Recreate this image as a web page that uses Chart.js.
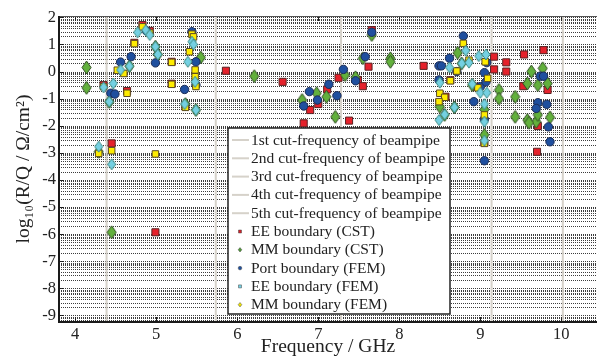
<!DOCTYPE html>
<html>
<head>
<meta charset="utf-8">
<script src="https://cdn.jsdelivr.net/npm/chart.js@4/dist/chart.umd.min.js"></script>
<style>
  html, body { margin: 0; padding: 0; background: #fff; }
  #wrap { width: 603px; height: 359px; }
</style>
</head>
<body>
<div id="wrap"><canvas id="myChart" width="603" height="359"></canvas></div>
<script>
'use strict';

// tick labels
let xTicks = [4, 5, 6, 7, 8, 9, 10];
let yTicks = [-9, -8, -7, -6, -5, -4, -3, -2, -1, 0, 1, 2];

// cut-frequencies of the beampipe (GHz)
let cutLabels = ['1st cut-frequency of beampipe', '2nd cut-frequency of beampipe', '3rd cut-frequency of beampipe',
  '4th cut-frequency of beampipe', '5th cut-frequency of beampipe'];
let cutFreq = [4.387, 5.735, 7.281, 9.139, 10.018];

// EE boundary (CST)
let eeCstFreq = [4.35, 4.45, 4.64, 4.73, 4.83, 4.92, 4.99, 5.19, 5.19, 5.36, 5.86, 6.56, 6.82, 6.90, 7.00, 7.11, 7.25,
  7.38, 7.49, 7.55, 7.62, 7.66, 8.30, 8.63, 8.57, 8.94, 9.17, 9.17, 9.32, 9.32, 9.54, 9.78, 9.53, 9.83, 9.71, 9.70, 9.05];
let eeCstVal = [-0.50, -2.65, -0.72, 1.06, 1.72, 1.50, -5.93, 0.36, -0.45, -1.28, 0.03, -0.38, -1.91, -1.42, -1.20, -0.66, -0.23,
  -1.81, -0.31, -0.54, 0.18, 1.53, 0.21, -0.32, -0.93, -0.56, 0.55, 0.08, 0.34, 0.00, 0.63, 0.79, -0.54, -0.68, -2.01, -2.96, -2.62];

// MM boundary (CST)
let mmCstFreq = [4.14, 4.14, 4.29, 4.42, 4.45, 4.67, 4.99, 5.02, 5.36, 5.55, 5.49, 6.21, 6.80, 6.98, 7.10, 7.21, 7.33, 7.46,
  7.55, 7.66, 7.89, 7.89, 8.50, 8.56, 8.68, 8.72, 8.77, 8.90, 9.05, 9.05, 9.23, 9.23, 9.43, 9.43, 9.63, 9.77, 9.58, 9.71,
  9.83, 9.58, 9.69, 9.86, 9.71, 9.60];
let mmCstVal = [0.15, -0.60, -2.96, -1.12, -5.93, 0.20, 0.92, 0.63, -1.20, 0.52, -1.42, -0.17, -1.05, -0.80, -0.93, -1.67, -0.13, -0.21,
  0.49, 1.35, 0.49, 0.36, -1.30, -1.60, -1.32, 0.69, 0.30, -0.50, -1.40, -2.34, -0.68, -1.00, -0.93, -1.67, 0.00, 0.12, -0.44, -0.50,
  -0.44, -1.79, -1.85, -1.69, -1.60, -1.89];

// Port boundary (FEM)
let portFreq = [4.44, 4.49, 4.56, 4.69, 4.99, 4.88, 5.44, 5.49, 5.49, 5.35, 6.82, 6.89, 6.99, 7.13, 7.23, 7.31, 7.46, 7.58,
  7.66, 8.49, 8.52, 8.49, 8.62, 8.71, 8.79, 8.92, 9.00, 9.05, 9.08, 9.07, 9.05, 9.05, 9.74, 9.78, 9.71, 9.82, 9.69, 9.84, 9.86];
let portVal = [-0.80, -0.83, 0.35, 0.55, 0.32, 1.50, 1.47, 0.36, -0.50, -0.66, -1.27, -0.74, -1.05, -0.47, -0.89, 0.08, -0.34, 0.55,
  1.45, 0.21, 0.21, -0.31, 0.49, 0.00, 1.31, -1.11, -0.56, -0.04, 0.33, -0.38, -1.76, -3.29, -0.17, -0.17, -1.15, -1.21, -1.36, -2.04, -2.59];

// EE boundary (FEM)
let eeFemFreq = [4.35, 4.29, 4.45, 4.64, 4.73, 4.83, 4.92, 4.52, 4.60, 4.99, 5.19, 5.19, 5.36, 5.41, 5.44, 5.46, 5.48, 5.48,
  5.49, 8.79, 8.86, 8.71, 8.63, 8.50, 8.56, 8.49, 8.97, 9.06, 9.09, 9.05, 9.05];
let eeFemVal = [-0.56, -3.02, -2.92, -0.80, 1.03, 1.65, 1.42, 0.05, -0.07, -3.04, 0.34, -0.47, -1.32, 0.73, 1.38, 1.28, 0.06, -0.19,
  -0.55, 1.04, 0.42, 0.02, -0.34, -0.80, -0.95, -1.11, -0.60, 0.36, -0.25, -1.60, -2.65];

// MM boundary (FEM)
let mmFemFreq = [4.29, 4.45, 4.35, 4.47, 4.42, 4.56, 4.67, 4.77, 4.87, 4.92, 4.99, 5.02, 5.35, 5.49, 5.39, 5.44, 5.46, 5.48,
  8.50, 8.62, 8.77, 8.82, 8.86, 8.98, 9.07, 8.90, 9.00, 9.08, 8.56, 8.49, 8.68, 9.05, 9.05, 9.05];
let mmFemVal = [-2.77, -3.42, -0.58, -0.44, -1.11, 0.06, 0.20, 1.45, 1.53, 1.35, 0.92, 0.63, -1.20, -1.42, 0.36, 1.10, 1.00, -0.38,
  -0.41, 0.15, 0.30, 0.77, 0.33, 0.57, 0.63, -0.46, -0.78, -0.78, -1.58, -1.79, -1.32, -1.20, -1.85, -2.55];

let serif = '"Liberation Serif", "DejaVu Serif", serif';

function pts(xs, ys) {
  return xs.map((x, i) => ({x: x, y: ys[i]}));
}

function makeDiamond(w, h, fill, stroke) {
  let c = document.createElement('canvas');
  c.width = w + 2;
  c.height = h + 2;
  let g = c.getContext('2d');
  g.beginPath();
  g.moveTo(c.width / 2, 1);
  g.lineTo(c.width - 1, c.height / 2);
  g.lineTo(c.width / 2, c.height - 1);
  g.lineTo(1, c.height / 2);
  g.closePath();
  g.fillStyle = fill;
  g.fill();
  g.lineWidth = 1;
  g.strokeStyle = stroke;
  g.stroke();
  return c;
}

let greenDiamond = makeDiamond(9, 13, '#62b03c', '#2e4a22');
let cyanDiamond = makeDiamond(8, 11, '#74d0e2', '#3d8a82');

let yMin = -9.24;
let yMax = 2.05;

let datasets = [];
for (let i = 0; i < cutFreq.length; i++) {
  datasets.push({
    label: cutLabels[i],
    data: [{x: cutFreq[i], y: yMin}, {x: cutFreq[i], y: yMax}],
    showLine: true,
    borderColor: '#d6d2ca',
    borderWidth: 2,
    pointRadius: 0,
    order: 10,
    legendKind: 'line'
  });
}
datasets.push({
  label: 'EE boundary (CST)', data: pts(eeCstFreq, eeCstVal),
  pointStyle: 'rect', pointRadius: 5, backgroundColor: '#e5212b', borderColor: '#5a2222', borderWidth: 1,
  order: 5, legendColor: '#d42028', legendShape: 'rect'
});
datasets.push({
  label: 'MM boundary (CST)', data: pts(mmCstFreq, mmCstVal),
  pointStyle: greenDiamond, backgroundColor: '#62b03c', borderColor: '#2e4a22',
  order: 4, legendColor: '#4f9a35', legendShape: 'diamond'
});
datasets.push({
  label: 'Port boundary (FEM)', data: pts(portFreq, portVal),
  pointStyle: 'circle', pointRadius: 4.2, backgroundColor: '#1f4f9e', borderColor: '#1b2c55', borderWidth: 1,
  order: 3, legendColor: '#1f4f9e', legendShape: 'circle'
});
datasets.push({
  label: 'EE boundary (FEM)', data: pts(eeFemFreq, eeFemVal),
  pointStyle: 'rect', pointRadius: 4.6, backgroundColor: '#ffec00', borderColor: '#5b4a22', borderWidth: 1,
  order: 2, legendColor: '#74d0e2', legendShape: 'rect'
});
datasets.push({
  label: 'MM boundary (FEM)', data: pts(mmFemFreq, mmFemVal),
  pointStyle: cyanDiamond, backgroundColor: '#74d0e2', borderColor: '#3d8a82',
  order: 1, legendColor: '#f2e600', legendShape: 'diamond'
});

// dotted log-style grid, frame and inward ticks
let gridPlugin = {
  id: 'logGrid',
  beforeDatasetsDraw(chart) {
    let ctx = chart.ctx;
    let area = chart.chartArea;
    let ys = chart.scales.y;
    ctx.save();
    ctx.strokeStyle = '#3c3c3c';
    ctx.lineWidth = 1;
    ctx.setLineDash([1, 1]);
    for (let k = -10; k <= 2; k++) {
      for (let n = 1; n <= 9; n++) {
        let v = k + Math.log10(n);
        if (v < yMin || v > yMax) continue;
        let py = Math.round(ys.getPixelForValue(v)) + 0.5;
        ctx.beginPath();
        ctx.moveTo(area.left, py);
        ctx.lineTo(area.right, py);
        ctx.stroke();
      }
    }
    ctx.setLineDash([]);
    ctx.restore();
  },
  afterDatasetsDraw(chart) {
    let ctx = chart.ctx;
    let area = chart.chartArea;
    let ys = chart.scales.y;
    let xs = chart.scales.x;
    ctx.save();
    ctx.strokeStyle = '#222';
    ctx.lineWidth = 1;
    xTicks.forEach(t => {
      let px = Math.round(xs.getPixelForValue(t)) + 0.5;
      ctx.beginPath();
      ctx.moveTo(px, area.bottom);
      ctx.lineTo(px, area.bottom - 5);
      ctx.moveTo(px, area.top);
      ctx.lineTo(px, area.top + 5);
      ctx.stroke();
    });
    yTicks.forEach(t => {
      let py = Math.round(ys.getPixelForValue(t)) + 0.5;
      ctx.beginPath();
      ctx.moveTo(area.left, py);
      ctx.lineTo(area.left + 5, py);
      ctx.stroke();
    });
    ctx.strokeStyle = '#555';
    ctx.beginPath();
    ctx.moveTo(area.left, area.top + 0.5);
    ctx.lineTo(area.right, area.top + 0.5);
    ctx.stroke();
    ctx.strokeStyle = '#1a1a1a';
    ctx.lineWidth = 2;
    ctx.beginPath();
    ctx.moveTo(area.left, area.top);
    ctx.lineTo(area.left, area.bottom);
    ctx.lineTo(area.right, area.bottom);
    ctx.stroke();
    ctx.restore();
  }
};

// legend box drawn inside the plot
let legendPlugin = {
  id: 'boxLegend',
  afterDraw(chart) {
    let ctx = chart.ctx;
    let bx = 228, by = 128, bw = 222, bh = 186;
    ctx.save();
    ctx.fillStyle = '#fff';
    ctx.fillRect(bx, by, bw, bh);
    ctx.strokeStyle = '#222';
    ctx.lineWidth = 1.5;
    ctx.strokeRect(bx, by, bw, bh);
    ctx.font = '15.5px ' + serif;
    ctx.textBaseline = 'middle';
    ctx.fillStyle = '#222';
    chart.data.datasets.forEach((ds, i) => {
      let cy = 140 + i * 18.3;
      if (ds.legendKind === 'line') {
        ctx.strokeStyle = ds.borderColor;
        ctx.lineWidth = 2;
        ctx.beginPath();
        ctx.moveTo(232, cy);
        ctx.lineTo(249, cy);
        ctx.stroke();
      } else {
        ctx.fillStyle = ds.legendColor;
        ctx.strokeStyle = '#444';
        ctx.lineWidth = 0.5;
        ctx.beginPath();
        if (ds.legendShape === 'rect') {
          ctx.rect(238.5, cy - 1.5, 3, 3);
        } else if (ds.legendShape === 'circle') {
          ctx.arc(240, cy, 1.8, 0, Math.PI * 2);
        } else {
          ctx.moveTo(240, cy - 2.2);
          ctx.lineTo(241.8, cy);
          ctx.lineTo(240, cy + 2.2);
          ctx.lineTo(238.2, cy);
          ctx.closePath();
        }
        ctx.fill();
        ctx.stroke();
      }
      ctx.fillStyle = '#222';
      ctx.fillText(ds.label, 251, cy + 0.5);
    });
    ctx.restore();
  }
};

let ctx = document.getElementById('myChart').getContext('2d');
new Chart(ctx, {
  type: 'scatter',
  data: { datasets: datasets },
  options: {
    responsive: false,
    animation: false,
    devicePixelRatio: 1,
    layout: { padding: { top: 16, left: 0, right: 0, bottom: 0 } },
    plugins: {
      legend: { display: false },
      tooltip: { enabled: false }
    },
    scales: {
      x: {
        type: 'linear',
        min: 3.8,
        max: 10.44,
        afterBuildTicks: (scale) => { scale.ticks = xTicks.map(v => ({value: v})); },
        afterFit: (scale) => { scale.height = 37; },
        grid: { display: false, drawTicks: false },
        border: { display: false },
        ticks: { color: '#222', font: { family: serif, size: 16.5 }, padding: 3, maxRotation: 0 },
        title: { display: true, text: 'Frequency / GHz', color: '#222', font: { family: serif, size: 19.5 }, padding: 0 }
      },
      y: {
        type: 'linear',
        min: yMin,
        max: yMax,
        afterBuildTicks: (scale) => { scale.ticks = yTicks.map(v => ({value: v})); },
        afterFit: (scale) => { scale.width = 59; },
        grid: { display: false, drawTicks: false },
        border: { display: false },
        ticks: { color: '#222', font: { family: serif, size: 16.5 }, padding: 3 },
        title: { display: true, text: 'log₁₀(R/Q / Ω/cm²)', color: '#222', font: { family: serif, size: 19.5 }, padding: { top: 12, bottom: 0 } }
      }
    }
  },
  plugins: [gridPlugin, legendPlugin]
});
</script>
</body>
</html>
